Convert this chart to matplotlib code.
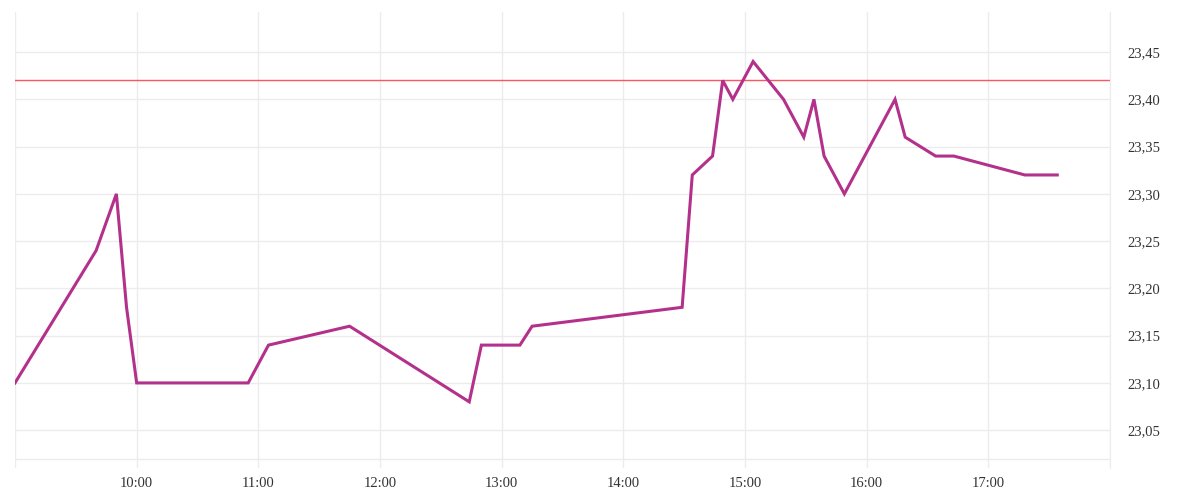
import matplotlib.pyplot as plt
from datetime import datetime

# time of day (HH:MM) and value
times = ['09:00', '09:40', '09:50', '09:55', '10:00', '10:55', '11:05', '11:45',
         '12:44', '12:50', '13:09', '13:15', '14:29', '14:34', '14:44', '14:49',
         '14:54', '15:04', '15:19', '15:29', '15:34', '15:39', '15:49', '16:14',
         '16:19', '16:34', '16:43', '17:18', '17:34']
values = [23.10, 23.24, 23.30, 23.18, 23.10, 23.10, 23.14, 23.16,
          23.08, 23.14, 23.14, 23.16, 23.18, 23.32, 23.34, 23.42,
          23.40, 23.44, 23.40, 23.36, 23.40, 23.34, 23.30, 23.40,
          23.36, 23.34, 23.34, 23.32, 23.32]
ref_level = 23.42
y_ticks = [23.05, 23.10, 23.15, 23.20, 23.25, 23.30, 23.35, 23.40, 23.45]
hours = [9, 10, 11, 12, 13, 14, 15, 16, 17, 18]

day = '2024-01-02 '
x = [datetime.strptime(day + t, '%Y-%m-%d %H:%M') for t in times]

plt.rcParams['font.family'] = ['Liberation Serif', 'DejaVu Serif']

fig = plt.figure(figsize=(12, 5), dpi=100)
ax = fig.add_axes([0.0125, 0.064, 0.9125, 0.912])

grid_c = '#ececec'
ax.set_xlim(datetime(2024, 1, 2, 9, 0), datetime(2024, 1, 2, 18, 0))
ax.set_ylim(23.010, 23.4924)

ax.set_xticks([datetime(2024, 1, 2, h, 0) for h in hours])
ax.set_xticklabels(['' if h in (9, 18) else '%d:00' % h for h in hours])
ax.set_yticks(y_ticks)
ax.set_yticklabels([('%.2f' % v).replace('.', ',') for v in y_ticks])

ax.grid(True, color=grid_c, linewidth=1)
ax.axhline(23.020, color=grid_c, linewidth=1, zorder=0)
ax.set_axisbelow(True)

ax.yaxis.tick_right()
ax.tick_params(axis='both', length=0, labelsize=10.5, colors='#333333')
ax.tick_params(axis='y', pad=12.5)
ax.tick_params(axis='x', pad=6.5)

for s in ['top', 'left', 'bottom']:
    ax.spines[s].set_visible(False)
ax.spines['right'].set_color(grid_c)

ax.axhline(ref_level, color='#ff5560', linewidth=1)
ax.plot(x, values, color='#b3318a', linewidth=2.2, solid_joinstyle='miter')

fig.savefig('out.png', dpi=100)
